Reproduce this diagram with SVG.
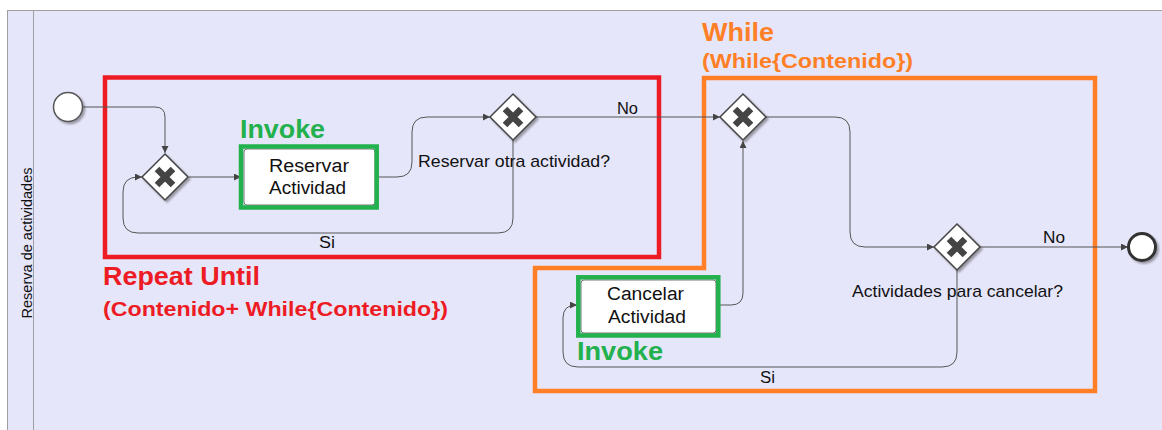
<svg xmlns="http://www.w3.org/2000/svg" width="1162" height="430" viewBox="0 0 1162 430">
  <defs>
    <filter id="shadow" x="-30%" y="-30%" width="160%" height="160%">
      <feDropShadow dx="2" dy="2" stdDeviation="1" flood-color="#000" flood-opacity="0.35"/>
    </filter>
    <marker id="arrow" markerUnits="userSpaceOnUse" markerWidth="8" markerHeight="8" refX="7" refY="3.5" orient="auto">
      <path d="M0,0 L7,3.5 L0,7 Z" fill="#444"/>
    </marker>
    <g id="xgate">
      <polygon points="0,-23 23,0 0,23 -23,0" fill="#fff" stroke="#444" stroke-width="1.5" filter="url(#shadow)"/>
      <path d="M-8,-8 L8,8 M8,-8 L-8,8" stroke="#444" stroke-width="6.5"/>
    </g>
  </defs>
  <style>
    .flow { fill: none; stroke: #555; stroke-width: 1; }
    .lbl { font-family: "Liberation Sans", Arial, sans-serif; fill: #111; }
    .task { fill: #fff; stroke: #555; stroke-width: 0.8; }
    .big { font-family: "Liberation Sans", Arial, sans-serif; font-weight: bold; }
  </style>

  <!-- pool and lane -->
  <g id="pool">
    <rect x="7.5" y="10.5" width="1160" height="430" fill="#e6e6fa" stroke="#a0a0a0" stroke-width="1"/>
    <line x1="33.5" y1="10.5" x2="33.5" y2="430" stroke="#a0a0a0" stroke-width="1"/>
    <text class="lbl" font-size="14.5" text-anchor="middle" transform="translate(32,243) rotate(-90)" textLength="151" lengthAdjust="spacingAndGlyphs">Reserva de actividades</text>
  </g>

  <!-- pattern frames -->
  <g id="repeat-until">
    <rect x="105" y="77.5" width="554" height="179.5" fill="none" stroke="#ed1c24" stroke-width="4.5"/>
    <text class="big" x="103" y="285" font-size="25" fill="#ed1c24" textLength="157" lengthAdjust="spacingAndGlyphs">Repeat Until</text>
    <text class="big" x="103" y="316" font-size="20" fill="#ed1c24" textLength="345" lengthAdjust="spacingAndGlyphs">(Contenido+ While{Contenido})</text>
  </g>
  <g id="while">
    <path d="M704,78 H1095 V391 H535 V268 H704 Z" fill="none" stroke="#ff7f27" stroke-width="4.5"/>
    <text class="big" x="702" y="41" font-size="25" fill="#ff7f27" textLength="72" lengthAdjust="spacingAndGlyphs">While</text>
    <text class="big" x="702" y="68" font-size="20" fill="#ff7f27" textLength="211" lengthAdjust="spacingAndGlyphs">(While{Contenido})</text>
  </g>

  <!-- connectors -->
  <g id="connectors">
    <path class="flow" d="M82,107 H155 Q165,107 165,117 V153" marker-end="url(#arrow)"/>
    <path class="flow" d="M189,177 H241" marker-end="url(#arrow)"/>
    <path class="flow" d="M377,177 H397 Q412,177 412,162 V132 Q412,117 427,117 H490" marker-end="url(#arrow)"/>
    <path class="flow" d="M513,140 V218 Q513,233 498,233 H138 Q123,233 123,218 V192 Q123,177 138,177 H142" marker-end="url(#arrow)"/>
    <path class="flow" d="M536,117 H720" marker-end="url(#arrow)"/>
    <path class="flow" d="M766,117 H835 Q850,117 850,132 V232 Q850,247 865,247 H934" marker-end="url(#arrow)"/>
    <path class="flow" d="M980,247 H1128" marker-end="url(#arrow)"/>
    <path class="flow" d="M957,270 V352 Q957,367 942,367 H578 Q563,367 563,352 V318 Q563,305 576,305 H577" marker-end="url(#arrow)"/>
    <path class="flow" d="M720,305 H731 Q743,305 743,293 V141" marker-end="url(#arrow)"/>
    <text class="lbl" x="319" y="248" font-size="16" textLength="16" lengthAdjust="spacingAndGlyphs">Si</text>
    <text class="lbl" x="617" y="114" font-size="16" textLength="21" lengthAdjust="spacingAndGlyphs">No</text>
    <text class="lbl" x="1043" y="243" font-size="16" textLength="22" lengthAdjust="spacingAndGlyphs">No</text>
    <text class="lbl" x="760" y="383" font-size="16" textLength="15" lengthAdjust="spacingAndGlyphs">Si</text>
  </g>

  <!-- events -->
  <g id="start">
    <circle cx="68" cy="107" r="14.5" fill="#fff" stroke="#555" stroke-width="1.5" filter="url(#shadow)"/>
  </g>
  <g id="end">
    <circle cx="1142" cy="247" r="13.5" fill="#fff" stroke="#333" stroke-width="3" filter="url(#shadow)"/>
  </g>

  <!-- gateways -->
  <g id="gw-loop"><use href="#xgate" x="165" y="177"/></g>
  <g id="gw-reservar-otra">
    <use href="#xgate" x="513" y="117"/>
    <text class="lbl" x="418" y="167" font-size="17" textLength="192" lengthAdjust="spacingAndGlyphs">Reservar otra actividad?</text>
  </g>
  <g id="gw-while"><use href="#xgate" x="743" y="117"/></g>
  <g id="gw-cancelar">
    <use href="#xgate" x="957" y="247"/>
    <text class="lbl" x="852" y="297" font-size="17" textLength="211" lengthAdjust="spacingAndGlyphs">Actividades para cancelar?</text>
  </g>

  <!-- tasks -->
  <g id="task-reservar">
    <rect class="task" x="244" y="149" width="131" height="56" rx="3" filter="url(#shadow)"/>
    <rect x="241" y="146.5" width="135.7" height="61" fill="none" stroke="#22b14c" stroke-width="4.5"/>
    <text class="lbl" x="269" y="172" font-size="18" textLength="80" lengthAdjust="spacingAndGlyphs">Reservar</text>
    <text class="lbl" x="269" y="194" font-size="18" textLength="77" lengthAdjust="spacingAndGlyphs">Actividad</text>
    <text class="big" x="240" y="138" font-size="25" fill="#22b14c" textLength="85" lengthAdjust="spacingAndGlyphs">Invoke</text>
  </g>
  <g id="task-cancelar">
    <rect class="task" x="581" y="280" width="135" height="53" rx="3" filter="url(#shadow)"/>
    <rect x="578.3" y="277.3" width="140" height="58.2" fill="none" stroke="#22b14c" stroke-width="4.5"/>
    <text class="lbl" x="607" y="300" font-size="18" textLength="77" lengthAdjust="spacingAndGlyphs">Cancelar</text>
    <text class="lbl" x="608" y="323" font-size="18" textLength="78" lengthAdjust="spacingAndGlyphs">Actividad</text>
    <text class="big" x="577" y="360" font-size="25" fill="#22b14c" textLength="86" lengthAdjust="spacingAndGlyphs">Invoke</text>
  </g>
</svg>
